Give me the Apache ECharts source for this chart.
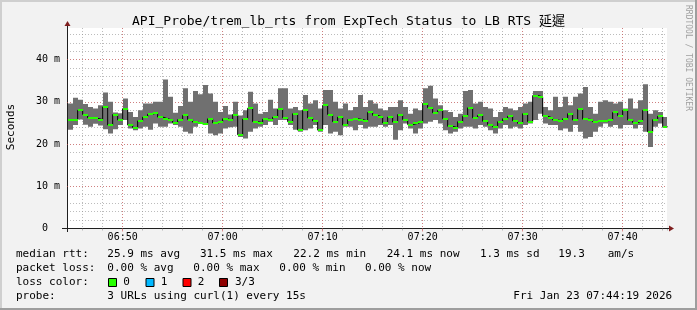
<!DOCTYPE html>
<html><head><meta charset="utf-8">
<script src="https://cdn.jsdelivr.net/npm/echarts@6/dist/echarts.min.js"></script>
<style>html,body{margin:0;padding:0;background:#f2f2f2}#c{width:697px;height:310px}</style>
</head><body><div id="c"></div>
<script>
// ---------- data ----------
const chartTitle = 'API_Probe/trem_lb_rts from ExpTech Status to LB RTS 延遲';
const yAxisName = 'Seconds';
const firstStep = '06:44:30';
const stepSeconds = 30;
const viewStart = '06:44:26';
const viewEnd = '07:44:26';
const yMax = 47.5;

const medianMs = [
  25.7,25.8,28.0,27.0,26.2,26.1,25.8,28.8,24.5,27.0,25.7,28.4,24.5,23.9,25.5,26.4,27.1,27.4,26.4,26.0,25.7,25.1,25.8,26.8,25.8,25.2,24.9,24.7,26.0,25.0,
  25.3,26.0,25.6,27.0,22.2,25.9,28.5,25.3,25.1,25.9,25.8,26.4,28.2,26.2,25.3,27.2,23.3,28.0,26.2,25.5,23.3,29.2,27.0,25.3,26.4,24.5,25.8,26.0,25.8,25.5,
  27.5,26.8,26.4,25.0,26.4,25.2,27.0,25.8,24.6,24.9,25.3,29.6,28.6,27.4,28.0,26.0,24.2,23.9,25.3,26.6,28.6,26.2,26.8,25.4,24.6,24.1,25.3,26.0,26.6,25.5,
  24.9,27.2,25.3,31.5,31.2,26.6,26.2,25.7,25.5,26.0,27.2,25.7,28.2,25.9,25.8,25.3,25.5,25.5,25.7,27.5,26.7,28.0,25.7,25.1,25.5,28.0,22.9,25.8,26.6,24.1
];
const minMs = [
  23.4,24.5,25.8,24.6,24.1,24.8,24.4,23.5,22.5,23.5,24.5,25.7,23.7,23.3,23.7,24.1,23.4,24.9,24.1,24.1,24.9,24.5,24.1,22.9,22.5,24.1,24.9,24.5,22.5,22.1,
  22.5,23.7,24.0,24.1,21.7,21.3,22.9,23.7,24.1,24.5,25.3,24.5,25.7,25.7,24.5,23.4,22.9,23.3,23.7,24.5,22.9,24.5,22.5,22.9,22.1,24.1,24.1,23.3,24.5,23.7,
  24.1,24.1,24.5,24.1,24.5,21.0,23.3,24.9,23.7,22.5,23.7,24.9,25.3,25.7,24.9,23.3,22.5,22.9,23.7,24.1,24.1,23.7,24.5,24.1,23.3,22.5,23.7,24.5,23.7,24.1,
  23.7,24.5,24.9,25.7,27.2,24.9,24.5,24.5,23.3,23.7,22.9,24.5,22.9,21.3,21.7,22.9,24.1,24.9,24.1,24.5,23.7,24.5,24.5,23.7,24.5,22.9,19.3,24.1,24.9,24.1
];
const maxMs = [
  29.6,31.0,30.5,29.5,28.8,28.4,29.2,32.2,30.0,27.5,27.3,30.8,27.6,26.4,28.0,29.6,29.6,30.0,30.0,35.3,31.2,27.4,29.0,33.2,30.0,32.6,31.8,34.0,32.0,30.0,
  27.6,29.0,27.0,30.0,26.8,28.0,32.4,29.6,27.2,27.6,30.5,28.4,33.2,33.2,28.4,28.8,28.0,31.6,29.6,30.4,28.4,32.8,32.8,30.0,28.4,29.6,28.0,28.8,31.6,28.8,
  30.4,29.6,28.4,28.0,28.8,28.8,30.4,28.8,27.2,28.4,28.0,33.2,33.8,30.8,29.2,28.0,27.6,26.4,27.2,32.6,32.8,29.6,30.0,28.8,28.4,26.4,27.6,28.8,28.4,28.0,
  28.8,29.6,30.0,32.6,32.6,28.8,28.0,31.2,28.8,31.2,29.2,31.2,32.0,33.5,28.8,27.2,30.0,30.4,30.0,29.6,30.0,28.4,30.8,28.4,30.4,34.2,27.2,28.0,27.6,26.4
];

const rttRow = [['median rtt:',16],['25.9 ms avg',107.3],['31.5 ms max',200],['22.2 ms min',293.3],['24.1 ms now',386.7],['1.3 ms sd',480],['19.3',558.3],['am/s',607.7]];
const lossRow = [['packet loss:',16],['0.00 % avg',107.3],['0.00 % max',193.3],['0.00 % min',279.3],['0.00 % now',365]];
const lossColorLabel = 'loss color:';
const lossLegend = [['0','#26ff00'],['1','#00b8ff'],['2','#ff0000'],['3/3','#8f0000']];
const probeLabel = 'probe:';
const probeText = '3 URLs using curl(1) every 15s';
const stampText = 'Fri Jan 23 07:44:19 2026';

// ---------- helpers ----------
function toMin(s){const p=s.split(':').map(Number);return (p[0]-6)*60+p[1]+(p[2]||0)/60;}
const stepMin = stepSeconds/60;
const x0 = toMin(firstStep);
const xs = medianMs.map((_,i)=>x0+i*stepMin);
const FONT = '"DejaVu Sans Mono","Noto Sans CJK TC",monospace';
const GRID_C = 'rgba(143,143,143,0.6)';
const MGRID_C = 'rgba(222,79,79,0.55)';
const AXIS_C = '#1f1f1f';
const ARROW_C = '#7f1f1f';

function hhmm(v){const r=Math.round(v);if(Math.abs(v-r)>1e-6||r%10!==0)return '';const h=6+Math.floor(r/60),m=((r%60)+60)%60;return String(h).padStart(2,'0')+':'+String(m).padStart(2,'0');}
function yLab(v){if(Math.abs(v-Math.round(v))>1e-6||Math.round(v)%10!==0)return '';return v===0?'0\u00a0\u00a0':v+' m';}

const smokeData = xs.map((x,i)=>[x,minMs[i],maxMs[i],medianMs[i]]);
const lineData = xs.map((x,i)=>[x,medianMs[i]]).concat([[xs[xs.length-1]+stepMin, medianMs[medianMs.length-1]]]);

function smokeItem(params, api){
  const x=api.value(0), lo=api.value(1), hi=api.value(2);
  const a=api.coord([x,hi]), b=api.coord([x+stepMin,lo]);
  const xl=Math.round(a[0]), xr=Math.round(b[0]);
  const shape=echarts.graphic.clipRectByRect({x:xl,y:a[1],width:xr-xl,height:b[1]-a[1]},params.coordSys);
  return shape?{type:'rect',shape:shape,style:{fill:'#707070'}}:null;
}
function medItem(params, api){
  const x=api.value(0), md=api.value(3);
  const a=api.coord([x,md]), b=api.coord([x+stepMin,md]);
  const xl=Math.round(a[0]), xr=Math.round(b[0]);
  const shape=echarts.graphic.clipRectByRect({x:xl,y:Math.round(a[1])-1,width:xr-xl,height:2},params.coordSys);
  return shape?{type:'rect',shape:shape,style:{fill:'#26ff00'}}:null;
}

const GL=67, GT=28, GW=600, GH=200.5;
const graphics = [];
function txt(t,x,y,opt){graphics.push(Object.assign({type:'text',silent:true,x:x,y:y,style:{text:t,font:'11px '+FONT,fill:'#000',verticalAlign:'middle',align:'left'}},opt||{}));}
// frame
graphics.push({type:'rect',silent:true,shape:{x:0,y:0,width:697,height:2},style:{fill:'#cfcfcf'}});
graphics.push({type:'rect',silent:true,shape:{x:0,y:0,width:2,height:310},style:{fill:'#cfcfcf'}});
graphics.push({type:'rect',silent:true,shape:{x:0,y:308,width:697,height:2},style:{fill:'#9e9e9e'}});
graphics.push({type:'rect',silent:true,shape:{x:695,y:0,width:2,height:310},style:{fill:'#9e9e9e'}});
// title
graphics.push({type:'text',silent:true,x:348.5,y:21.5,style:{text:chartTitle,font:'13px '+FONT,fill:'#000',align:'center',verticalAlign:'middle'}});
// y name
graphics.push({type:'text',silent:true,x:11,y:127,rotation:Math.PI/2,style:{text:yAxisName,font:'11px '+FONT,fill:'#000',align:'center',verticalAlign:'middle'}});
// watermark
graphics.push({type:'text',silent:true,x:688,y:5,rotation:-Math.PI/2,style:{text:'RRDTOOL / TOBI OETIKER',font:'8px '+FONT,fill:'#a0a0a0',align:'left',verticalAlign:'middle'}});
// axis arrows
graphics.push({type:'line',silent:true,z:10,shape:{x1:67.5,y1:GT,x2:67.5,y2:24},style:{stroke:AXIS_C,lineWidth:1}});
graphics.push({type:'polygon',silent:true,z:10,shape:{points:[[64.5,26],[70.5,26],[67.5,21]]},style:{fill:ARROW_C}});
graphics.push({type:'line',silent:true,z:10,shape:{x1:GL+GW,y1:228.5,x2:GL+GW+3,y2:228.5},style:{stroke:AXIS_C,lineWidth:1}});
graphics.push({type:'polygon',silent:true,z:10,shape:{points:[[GL+GW+2,225.5],[GL+GW+2,231.5],[GL+GW+7,228.5]]},style:{fill:ARROW_C}});
graphics.push({type:'line',silent:true,z:10,shape:{x1:62,y1:228.5,x2:67,y2:228.5},style:{stroke:AXIS_C,lineWidth:1}});
graphics.push({type:'line',silent:true,z:10,shape:{x1:67.5,y1:228,x2:67.5,y2:232},style:{stroke:AXIS_C,lineWidth:1}});
// legend rows
rttRow.forEach(r=>txt(r[0],r[1],254));
lossRow.forEach(r=>txt(r[0],r[1],268.3));
txt(lossColorLabel,16,282.3);
const boxX=[108.5,146,183,219.5], labX=[123.3,160.7,197.7,235];
lossLegend.forEach((l,i)=>{
  graphics.push({type:'rect',silent:true,shape:{x:boxX[i],y:278.5,width:8,height:8},style:{fill:l[1],stroke:'#000',lineWidth:1}});
  txt(l[0],labX[i],282.3);
});
txt(probeLabel,16,296);
txt(probeText,107.3,296);
txt(stampText,513.3,296);

const xmin=toMin(viewStart), xmax=toMin(viewEnd);
const dotted=[1,2];
const option = {
  animation:false,
  backgroundColor:'#f2f2f2',
  grid:{left:GL,top:GT,width:GW,height:GH,show:true,backgroundColor:'#ffffff',borderWidth:0},
  xAxis:[
    {type:'value',position:'bottom',min:xmin,max:xmax,minInterval:2,maxInterval:2,z:0,
     axisLine:{show:true,onZero:false,lineStyle:{color:AXIS_C,width:1}},
     axisTick:{show:true,length:2,lineStyle:{color:GRID_C}},
     axisLabel:{show:false},
     splitLine:{show:true,showMinLine:false,showMaxLine:false,lineStyle:{color:GRID_C,type:dotted,width:1}}},
    {type:'value',position:'bottom',min:xmin,max:xmax,minInterval:10,maxInterval:10,z:1,
     axisLine:{show:false,onZero:false},
     axisTick:{show:true,length:3,lineStyle:{color:MGRID_C}},
     axisLabel:{show:true,formatter:hhmm,margin:4,fontFamily:FONT,fontSize:10,color:'#000',showMinLabel:false,showMaxLabel:false},
     splitLine:{show:true,showMinLine:false,showMaxLine:false,lineStyle:{color:MGRID_C,type:dotted,width:1}}}
  ],
  yAxis:[
    {type:'value',position:'left',min:0,max:yMax,interval:2,z:0,
     axisLine:{show:true,onZero:false,lineStyle:{color:AXIS_C,width:1}},
     axisTick:{show:false},axisLabel:{show:false},
     splitLine:{show:true,showMinLine:false,showMaxLine:false,lineStyle:{color:GRID_C,type:dotted,width:1}}},
    {type:'value',position:'left',min:0,max:yMax,interval:10,z:1,
     axisLine:{show:false,onZero:false},axisTick:{show:false},
     axisLabel:{show:true,formatter:yLab,margin:7,fontFamily:FONT,fontSize:10,color:'#000',showMaxLabel:false},
     splitLine:{show:true,showMinLine:false,showMaxLine:false,lineStyle:{color:MGRID_C,type:dotted,width:1}}}
  ],
  series:[
    {type:'custom',name:'smoke',xAxisIndex:0,yAxisIndex:0,z:2,clip:true,silent:true,renderItem:smokeItem,data:smokeData,encode:{x:0,y:[1,2]}},
    {type:'line',name:'median-step',xAxisIndex:0,yAxisIndex:0,z:3,step:'end',showSymbol:false,symbol:'none',silent:true,
     lineStyle:{color:'#000',width:1},data:lineData},
    {type:'custom',name:'median',xAxisIndex:0,yAxisIndex:0,z:4,clip:true,silent:true,renderItem:medItem,data:smokeData,encode:{x:0,y:3}}
  ],
  graphic:graphics
};
const chart = echarts.init(document.getElementById('c'),null,{renderer:'canvas'});
chart.setOption(option);
</script></body></html>
